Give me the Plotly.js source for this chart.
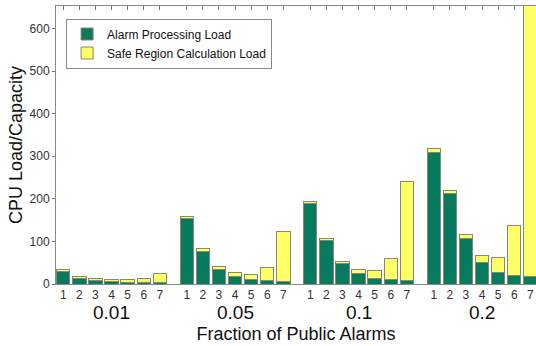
<!DOCTYPE html>
<html>
<head>
<meta charset="utf-8">
<script src="https://cdn.plot.ly/plotly-3.0.1.min.js"></script>
<style>html,body{margin:0;padding:0;background:#fff;}#chart{width:536px;height:346px;}</style>
</head>
<body>
<div id="chart"></div>
<script>
// Data
const groups = ["0.01", "0.05", "0.1", "0.2"];
const barLabels = ["1", "2", "3", "4", "5", "6", "7"];
const alarmLoad = [
  29, 13, 7.7, 6, 4.7, 4.7, 3,
  155, 77, 35, 18, 10, 7.7, 5.4,
  189, 102, 47, 24, 13, 10, 7.7,
  310, 212, 108, 51, 28, 19.5, 18
];
const safeRegionLoad = [
  6, 5.5, 4.7, 4, 5.3, 7.7, 22,
  4.6, 6, 6, 8, 12.5, 31, 118,
  5.5, 6, 6, 10, 19, 51, 233,
  8, 6.5, 9, 16, 35, 118.5, 700
];
const yTickStep = 100;

// positions (layout only)
const groupPeriod = 7.67;
const xs = [], tickText = [];
groups.forEach((g, gi) => {
  barLabels.forEach((b, bi) => {
    xs.push(1 + gi * groupPeriod + bi);
    tickText.push(b);
  });
});

const edge = {color: 'rgb(135,135,115)', width: 1};
const traces = [
  {type: 'bar', name: 'Alarm Processing Load', x: xs, y: alarmLoad, width: 0.83,
   marker: {color: '#087a5e', line: edge}},
  {type: 'bar', name: 'Safe Region Calculation Load', x: xs, y: safeRegionLoad, width: 0.83,
   marker: {color: '#ffff66', line: edge}}
];

const fontFam = 'Liberation Sans';
const annotations = groups.map((g, gi) => ({
  x: 1 + gi * groupPeriod + 3, xref: 'x', y: -0.104, yref: 'paper',
  text: g, showarrow: false, yanchor: 'middle', xanchor: 'center',
  font: {family: fontFam, size: 19, color: '#111'}
}));

const layout = {
  width: 536, height: 346,
  margin: {l: 56, r: 0, t: 6, b: 62},
  paper_bgcolor: '#fff', plot_bgcolor: '#fff',
  barmode: 'stack',
  showlegend: true,
  font: {family: fontFam, color: '#222'},
  legend: {
    x: 0.021, y: 0.955, xanchor: 'left', yanchor: 'top',
    bgcolor: '#fff', bordercolor: '#888', borderwidth: 1,
    font: {family: fontFam, size: 12, color: '#111'},
    traceorder: 'normal'
  },
  xaxis: {
    range: [0.55, 30.36],
    tickmode: 'array', tickvals: xs, ticktext: tickText,
    ticks: 'inside', ticklen: 4, tickcolor: '#777', mirror: 'ticks',
    showline: true, linecolor: '#888', linewidth: 1,
    showgrid: false, zeroline: false, layer: 'below traces',
    tickfont: {family: fontFam, size: 12, color: '#333'},
    title: {text: 'Fraction of Public Alarms', standoff: 25,
            font: {family: fontFam, size: 18, color: '#111'}}
  },
  yaxis: {
    range: [0, 653],
    tickmode: 'linear', tick0: 0, dtick: yTickStep,
    ticks: 'outside', ticklen: 3, tickcolor: '#777',
    showline: true, linecolor: '#888', linewidth: 1,
    showgrid: false, zeroline: false,
    tickfont: {family: fontFam, size: 12, color: '#333'},
    title: {text: 'CPU Load/Capacity', standoff: 2,
            font: {family: fontFam, size: 18, color: '#111'}}
  },
  annotations: annotations
};

Plotly.newPlot('chart', traces, layout, {displayModeBar: false, staticPlot: true});
</script>
</body>
</html>
